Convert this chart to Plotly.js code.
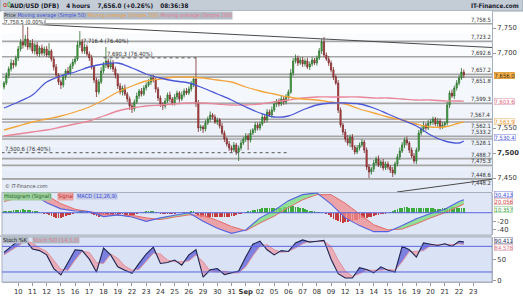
<!DOCTYPE html>
<html><head><meta charset="utf-8">
<script src="https://cdn.plot.ly/plotly-3.0.1.min.js"></script>
<style>html,body{margin:0;padding:0;background:#fff}#c{width:523px;height:296px}</style>
</head><body><div id="c"></div>
<script>
// ---------- DATA ----------
const candlesPerDay = 6;
const dayLabels = ['10','11','12','15','16','17','18','19','22','23','24','25','26','29','30','31','Sep','02','05','06','07','08','09','12','13','14','15','16','19','20','21','22','23'];
const firstOpen = 7632;
const closes = [
7640,7655,7668,7680,7676,7690,
7708,7722,7716,7728,7712,7720,
7704,7716,7698,7710,7700,7708,
7696,7704,7688,7672,7656,7642,
7636,7652,7664,7660,7674,7682,
7688,7716,7722,7704,7712,7698,
7690,7672,7646,7622,7642,7664,
7676,7684,7672,7680,7668,7656,
7634,7622,7630,7618,7608,7594,
7588,7602,7614,7624,7618,7630,
7636,7642,7650,7646,7628,7610,
7598,7594,7604,7616,7608,7600,
7612,7620,7608,7616,7624,7620,
7628,7638,7648,7600,7550,7552,
7548,7560,7568,7576,7572,7562,
7566,7554,7540,7528,7518,7510,
7506,7516,7502,7510,7520,7528,
7534,7526,7540,7546,7556,7550,
7558,7572,7566,7582,7576,7586,
7598,7604,7598,7608,7602,7612,
7622,7660,7684,7690,7680,7686,
7678,7684,7672,7678,7686,7680,
7690,7704,7722,7696,7688,7680,
7666,7652,7640,7586,7556,7542,
7528,7520,7532,7512,7502,7510,
7516,7522,7506,7472,7462,7468,
7480,7488,7476,7482,7470,7478,
7472,7466,7460,7478,7492,7504,
7516,7526,7520,7506,7494,7484,
7506,7540,7548,7556,7550,7560,
7562,7568,7558,7564,7552,7556,
7560,7596,7620,7614,7630,7640,
7650,7662,7656];
const upperWick = [
4,6,5,8,6,5, 6,6,34,8,24,6, 8,5,6,4,7,5, 6,16,4,5,6,4, 5,6,4,8,5,6, 6,8,22,6,7,5,
5,6,4,5,6,8, 6,28,5,7,6,5, 4,6,5,7,4,5, 6,5,7,4,6,5, 5,6,4,6,5,4, 5,4,6,5,7,4,
6,5,4,7,5,6, 5,6,5,44,6,5, 4,6,5,7,4,5, 5,4,6,5,4,6, 5,6,4,5,6,4, 6,5,7,4,6,5,
5,6,4,6,5,7, 6,4,5,7,5,6, 5,8,6,7,5,6, 6,5,7,5,6,4, 5,6,6,10,5,6, 5,6,4,6,5,4,
6,8,5,6,4,6, 5,6,4,5,6,4, 6,5,7,4,6,5, 5,4,6,5,6,7, 6,5,7,4,5,6, 5,6,5,7,4,6,
6,5,4,6,5,7, 4,6,5,7,5,6, 6,8,5];
const lowerWick = [
5,4,6,5,7,4, 6,5,7,4,6,5, 5,7,4,6,5,6, 4,6,5,7,5,6, 8,5,6,4,5,6, 5,4,6,5,6,4,
6,5,6,10,5,4, 5,6,4,5,6,7, 6,5,7,4,6,8, 8,5,4,6,5,4, 5,4,6,5,7,6, 6,8,5,4,6,5,
5,6,7,4,5,4, 4,5,6,8,8,6, 8,5,4,6,5,4, 6,5,4,6,5,6, 5,4,6,18,5,4, 6,20,5,4,6,5,
5,4,6,5,4,6, 4,6,5,4,6,5, 5,4,6,5,6,4, 6,5,4,6,5,4, 5,4,6,5,4,6, 5,6,4,6,5,6,
6,5,8,6,5,4, 5,4,6,6,12,5, 6,5,4,6,5,4, 5,6,8,4,5,6, 4,6,5,6,4,5, 6,4,5,6,5,4,
5,6,4,6,5,4, 4,5,6,4,6,5, 5,4,6];
// moving averages, sampled at each day start and at the last candle
const sma50  = [7590,7602,7616,7642,7654,7662,7672,7678,7680,7670,7658,7650,7644,7640,7630,7618,7606,7592,7580,7572,7574,7586,7596,7600,7600,7598,7590,7578,7566,7554,7536,7524,7520,7524];
const sma100 = [7546,7554,7562,7568,7574,7582,7592,7606,7622,7634,7644,7648,7652,7652,7650,7646,7642,7632,7624,7618,7612,7608,7606,7602,7598,7588,7580,7572,7566,7558,7552,7552,7560,7562];
const sma200 = [7534,7538,7542,7546,7552,7558,7564,7574,7584,7590,7594,7596,7598,7600,7600,7598,7596,7596,7598,7602,7606,7610,7612,7612,7612,7612,7610,7610,7608,7606,7606,7604,7604,7603.6];
// MACD (12,26,9), sampled at each day start and at the last candle
const macdLine   = [31,40,44,23,9,4,3,-9,-5,-10,-20,-12,-6,0,-20,-36,-48,-40,-12,5,28,42,46,20,-12,-30,-44,-44,-30,-14,-2,8,26,30.4];
const signalLine = [26,34,42,40,21,8,2,-3,-6,-6,-12,-16,-10,-5,-6,-18,-32,-42,-24,-8,12,30,42,42,22,-4,-28,-40,-38,-26,-12,0,14,20.1];
const histogram = [
3,4,5,5,6,6, 6,7,8,7,6,6, 5,4,3,2,0,-2, -4,-6,-8,-10,-12,-13, -12,-10,-8,-6,-5,-3, -1,2,4,3,2,1,
-1,-3,-6,-8,-9,-7, -6,-4,-3,-4,-5,-4, -5,-4,-3,-5,-6,-7, -6,-5,-3,-1,1,2, 3,4,5,4,2,-1, -3,-4,-4,-3,-3,-2,
-2,-1,-1,0,1,1, 2,3,4,-2,-6,-9, -11,-12,-12,-11,-10,-10, -9,-9,-10,-10,-10,-9, -8,-7,-6,-4,-2,0, 2,3,5,6,7,8,
9,10,10,11,11,12, 12,11,11,12,13,14, 15,16,16,14,13,12, 10,9,7,5,4,3, 2,1,1,-1,-3,-6, -10,-14,-18,-20,-22,-23,
-22,-21,-20,-19,-18,-16, -14,-12,-12,-12,-11,-10, -8,-6,-5,-4,-3,-2, 0,2,4,6,8,10, 12,13,13,12,11,10, 10,11,12,12,11,10,
10,10,9,9,9,10, 10,11,12,13,13,12, 12,11,10];
// Stochastic (14,3,3), sampled every 3 candles and at the last candle
const stochK = [66,80,93,95,74,70,60,28,13,42,72,70,50,20,76,60,32,24,17,40,62,78,40,42,48,36,60,72,8,25,28,14,18,22,55,85,92,72,60,70,68,88,95,90,92,94,50,16,6,6,30,26,18,32,24,20,80,72,55,88,85,82,86,80,92,90.4];
const stochD = [60,70,82,92,88,76,68,48,26,24,48,68,66,42,40,62,52,34,24,26,44,64,62,48,44,44,46,60,44,22,20,22,18,18,32,58,80,84,72,66,68,76,86,92,91,92,80,48,22,10,16,24,24,24,26,24,44,68,68,70,82,84,84,84,86,84.6];
// horizontal levels and their labels (labelBelow: label drawn under its line)
const levelValues = [7758.5,7723.2,7692.6,7657.2,7651.8,7599.3,7567.4,7562.1,7533.2,7528.1,7488.7,7475.3,7448.6,7448.2];
const labelBelow  = [0,0,0,0,1,0,0,1,0,1,0,0,0,1];
const fibLabels = ['7,758.5 (0.00%)','7,716.4 (76.40%)','7,690.3 (76.40%)','7,500.6 (76.40%)'];
const fibValues = [7758.5,7716.4,7690.3,7500.6];
const fibAt = [0,33,43,0];
const dottedValues = [7690.3,7500.6];
const dottedFrom = [42,-1];
const dottedTo = [81,120];
const trendX = [[7.6,206],[165.8,206]];
const trendY = [[7758.5,7711],[7422,7447.5]];
const headerText = ['AUD/USD (DFB)','4 hours','7,656.0 (+0.26%)','08:36:38'];
const lastPrice = 7656.0, lastSma200 = 7603.6, lastSma100 = 7563.9, lastSma50 = 7530.4;
const macdLast = ['30.413','20.056','10.357'];
const macdLastAt = [43.5,25.9,8.2];
const stochLast = ['90.411','84.576'];
const stochLastAt = [94.8,77.3];

// ---------- BUILD ----------
const n = closes.length;
const idx = closes.map((_, i) => i);
const opens = closes.map((c, i) => i === 0 ? firstOpen : closes[i - 1]);
const highs = closes.map((c, i) => Math.max(opens[i], c) + upperWick[i]);
const lows  = closes.map((c, i) => Math.min(opens[i], c) - lowerWick[i]);
const dayX = []; for (let k = 0; k * candlesPerDay < n; k++) dayX.push(k * candlesPerDay); dayX.push(n - 1);
const stX = []; for (let j = 0; j * 3 < n - 1; j++) stX.push(j * 3); stX.push(n - 1);

const W = 490, H = 282;
const PX = p => (p - 2) / W, PY = p => (H - p) / H;
const FONT = '"DejaVu Sans", sans-serif';
const NARROW = '"DejaVu Sans Condensed","Liberation Sans Narrow","Liberation Sans",sans-serif';

function fillBetween(xs, a, b, upC, dnC, ya) {
  const out = []; let cx = [], ct = [], cb = [], sg = null;
  const flush = () => { if (cx.length > 1) out.push({type:'scatter', mode:'lines', x: cx.concat(cx.slice().reverse()), y: ct.concat(cb.slice().reverse()), fill:'toself', fillcolor: sg > 0 ? upC : dnC, line:{width:0, color:'rgba(0,0,0,0)'}, hoverinfo:'skip', showlegend:false, xaxis:'x', yaxis:ya}); };
  for (let i = 0; i < xs.length; i++) {
    const d = a[i] - b[i], s = d >= 0 ? 1 : -1;
    if (sg === null) sg = s;
    else if (s !== sg) {
      const d0 = a[i-1] - b[i-1], t = d0 / (d0 - d);
      const xc = xs[i-1] + t * (xs[i] - xs[i-1]), yc = a[i-1] + t * (a[i] - a[i-1]);
      cx.push(xc); ct.push(yc); cb.push(yc); flush();
      cx = [xc]; ct = [yc]; cb = [yc]; sg = s;
    }
    cx.push(xs[i]); ct.push(a[i]); cb.push(b[i]);
  }
  flush(); return out;
}

const traces = [];
traces.push({type:'candlestick', x: idx, open: opens, high: highs, low: lows, close: closes,
  increasing:{line:{color:'#2f6f2f', width:0.8}, fillcolor:'#42c042'},
  decreasing:{line:{color:'#7a2b2b', width:0.8}, fillcolor:'#d64848'},
  whiskerwidth:0, hoverinfo:'skip', showlegend:false, xaxis:'x', yaxis:'y'});
[[sma200,'#e9879a'],[sma100,'#f3a53c'],[sma50,'#4b57d6']].forEach(([v,c]) =>
  traces.push({type:'scatter', mode:'lines', x: dayX, y: v, line:{color:c, width:1.3, shape:'spline', smoothing:1}, hoverinfo:'skip', showlegend:false, xaxis:'x', yaxis:'y'}));

fillBetween(dayX, macdLine, signalLine, 'rgba(120,220,120,0.75)', 'rgba(240,140,140,0.75)', 'y2').forEach(t => traces.push(t));
traces.push({type:'bar', x: idx, y: histogram, width:0.75, marker:{color: histogram.map(v => v >= 0 ? '#3daa3d' : '#c43c3c'), line:{width:0}}, hoverinfo:'skip', showlegend:false, xaxis:'x', yaxis:'y2'});
traces.push({type:'scatter', mode:'lines', x: dayX, y: signalLine, line:{color:'#e46a6a', width:1}, hoverinfo:'skip', showlegend:false, xaxis:'x', yaxis:'y2'});
traces.push({type:'scatter', mode:'lines', x: dayX, y: macdLine, line:{color:'#5463e2', width:1.1}, hoverinfo:'skip', showlegend:false, xaxis:'x', yaxis:'y2'});

fillBetween(stX, stochK, stochD, 'rgba(95,95,215,0.75)', 'rgba(235,160,170,0.8)', 'y3').forEach(t => traces.push(t));
traces.push({type:'scatter', mode:'lines', x: stX, y: stochD, line:{color:'#e0909c', width:1}, hoverinfo:'skip', showlegend:false, xaxis:'x', yaxis:'y3'});
traces.push({type:'scatter', mode:'lines', x: stX, y: stochK, line:{color:'#1c2450', width:1.1}, hoverinfo:'skip', showlegend:false, xaxis:'x', yaxis:'y3'});

// ---------- LAYOUT ----------
const mainDom = [PY(192), PY(11)], macdDom = [PY(235), PY(192.5)], stDom = [0, PY(237)];
const shapes = [];
shapes.push({type:'rect', xref:'paper', yref:'paper', x0:PX(0), x1:PX(523), y0:PY(11), y1:1.05, fillcolor:'#c4ccd5', line:{color:'#9aa6b2', width:1}, layer:'below'});
const bands = 8;
for (let b = 0; b < bands; b++) {
  const t = b / (bands - 1);
  const r = Math.round(255 - t * 25), g = Math.round(255 - t * 19), bl = Math.round(255 - t * 7);
  shapes.push({type:'rect', xref:'paper', yref:'paper', x0:0, x1:1, y0:PY(11 + (b + 1) * 181 / bands), y1:PY(11 + b * 181 / bands), fillcolor:`rgb(${r},${g},${bl})`, line:{width:0}, layer:'below'});
}
shapes.push({type:'rect', xref:'paper', yref:'paper', x0:0, x1:1, y0:macdDom[0], y1:macdDom[1], fillcolor:'#dfe6f6', line:{color:'#a8b0c0', width:1}, layer:'below'});
shapes.push({type:'rect', xref:'paper', yref:'paper', x0:0, x1:1, y0:stDom[0], y1:stDom[1], fillcolor:'#dae2f6', line:{color:'#a8b0c0', width:1}, layer:'below'});
shapes.push({type:'rect', xref:'paper', yref:'paper', x0:PX(0), x1:1, y0:PY(237), y1:PY(235), fillcolor:'#b9c1cb', line:{width:0}, layer:'below'});
levelValues.forEach(v => shapes.push({type:'line', xref:'paper', yref:'y', x0:0, x1:1, y0:v, y1:v, line:{color:'#a6a6a6', width:1.6}, layer:'below'}));
dottedValues.forEach((v, i) => shapes.push({type:'line', xref:'x', yref:'y', x0:dottedFrom[i], x1:dottedTo[i], y0:v, y1:v, line:{color:'#555', width:1, dash:'dot'}}));
trendX.forEach((xs, i) => shapes.push({type:'line', xref:'x', yref:'y', x0:xs[0], x1:xs[1], y0:trendY[i][0], y1:trendY[i][1], line:{color:'#4a4a4a', width:1}}));
shapes.push({type:'line', xref:'paper', yref:'y2', x0:0, x1:1, y0:0, y1:0, line:{color:'#5a66e0', width:1}});
[80, 20].forEach(v => shapes.push({type:'line', xref:'paper', yref:'y3', x0:0, x1:1, y0:v, y1:v, line:{color:'#5a66e0', width:1}}));

const ann = [];
const A = (o) => ann.push(Object.assign({showarrow:false, font:{family:NARROW, size:6, color:'#333'}}, o));
const HF = {family:NARROW, size:6.3, color:'#18202c'};
A({xref:'paper', yref:'paper', x:PX(1), y:PY(5.5), xanchor:'left', yanchor:'middle', text:'<span style="color:#c02020">ɑ</span><span style="color:#20a020">0</span>', font:{family:NARROW, size:7, color:'#333'}});
A({xref:'paper', yref:'paper', x:PX(8), y:PY(5.5), xanchor:'left', yanchor:'middle', font:HF,
  text: headerText.map(t => '<b>' + t + '</b>').join('&nbsp;&nbsp;&nbsp;&nbsp;')});
A({xref:'paper', yref:'paper', x:PX(521), y:PY(5.5), xanchor:'right', yanchor:'middle', text:'<b>IT-Finance.com</b>', font:HF});
A({xref:'paper', yref:'paper', x:PX(3), y:PY(15.3), xanchor:'left', yanchor:'middle', borderpad:0, bgcolor:'#b2bcc7',
  text:'Price <span style="color:#3d4ed6">Moving average (Simple 50)</span> <span style="color:#f0a040">Moving average (Simple 100)</span> <span style="color:#e8778c">Moving average (Simple 200)</span>',
  font:{family:NARROW, size:5.4, color:'#333'}});
A({xref:'paper', yref:'paper', x:PX(4), y:PY(21.8), xanchor:'left', yanchor:'middle', text:fibLabels[0], bgcolor:'rgba(255,255,255,0.92)', bordercolor:'#999', borderwidth:0.6, borderpad:0, font:{family:NARROW, size:5.6, color:'#333'}});
[1,2].forEach(i => A({xref:'x', yref:'y', x:fibAt[i], y:fibValues[i], xanchor:'left', yanchor:'bottom', borderpad:0, text:fibLabels[i], font:{family:NARROW, size:5.8, color:'#333'}}));
A({xref:'paper', yref:'y', x:PX(4), y:fibValues[3], xanchor:'left', yanchor:'bottom', borderpad:0, text:fibLabels[3], font:{family:NARROW, size:5.8, color:'#333'}});
levelValues.forEach((v, i) => A({xref:'paper', yref:'y', x:1, y:v, xanchor:'right', yanchor: labelBelow[i] ? 'top' : 'bottom', borderpad:0,
  text: v.toLocaleString('en-US', {minimumFractionDigits:1}), font:{family:NARROW, size:5.8, color:'#333'}}));
const box = (y, text, yref, color, bg, border) => A({xref:'paper', yref, x:1.004, y, xanchor:'left', yanchor:'middle', text, bgcolor:bg, bordercolor:border, borderwidth:0.6, borderpad:0, font:{family:NARROW, size:5.8, color}});
box(lastPrice, '7,656.0', 'y', '#3a2a10', '#f6b24c', '#d08a20');
box(lastSma200, '7,603.6', 'y', '#e0607a', '#ffffff', '#e0a0b0');
box(lastSma100, '7,563.9', 'y', '#e89020', '#ffffff', '#f0c080');
box(lastSma50, '7,530.4', 'y', '#3d4ed6', '#ffffff', '#8890e0');
box(macdLastAt[0], macdLast[0], 'y2', '#3d4ed6', '#ffffff', '#8890e0');
box(macdLastAt[1], macdLast[1], 'y2', '#d04040', '#ffffff', '#e0a0a0');
box(macdLastAt[2], macdLast[2], 'y2', '#2e9a2e', '#ffffff', '#90d090');
box(stochLastAt[0], stochLast[0], 'y3', '#1c2450', '#ffffff', '#8088a8');
box(stochLastAt[1], stochLast[1], 'y3', '#e07080', '#ffffff', '#e0a0b0');
A({xref:'paper', yref:'paper', x:PX(3), y:PY(186.5), xanchor:'left', yanchor:'middle', text:'© IT-Finance.com', font:{family:NARROW, size:5.4, color:'#555'}});
A({xref:'paper', yref:'paper', x:PX(3), y:PY(196), xanchor:'left', yanchor:'middle', borderpad:0, bgcolor:'#9fd09f', text:'Histogram (Signal)', font:{family:NARROW, size:5.6, color:'#2a6a2a'}});
A({xref:'paper', yref:'paper', x:PX(56.5), y:PY(196), xanchor:'left', yanchor:'middle', borderpad:0, bgcolor:'#eaa4a4', text:'Signal', font:{family:NARROW, size:5.6, color:'#c03030'}});
A({xref:'paper', yref:'paper', x:PX(76), y:PY(196), xanchor:'left', yanchor:'middle', borderpad:0, bgcolor:'#c4cbe8', text:'MACD (12,26,9)', font:{family:NARROW, size:5.6, color:'#3d4ed6'}});
A({xref:'paper', yref:'paper', x:PX(2), y:PY(239.5), xanchor:'left', yanchor:'middle', borderpad:0, bgcolor:'#b2bcc7', text:'Stoch %K', font:{family:NARROW, size:5.6, color:'#222'}});
A({xref:'paper', yref:'paper', x:PX(32), y:PY(239.5), xanchor:'left', yanchor:'middle', borderpad:0, bgcolor:'#b2bcc7', text:'Stoch %D (14,3,3)', font:{family:NARROW, size:5.6, color:'#e07888'}});

const tickFont = {family:FONT, size:6.8, color:'#333'};
const axisBase = {ticks:'outside', ticklen:3, tickcolor:'#999', tickfont:tickFont, showgrid:false, zeroline:false, showline:true, linecolor:'#a8b0c0', fixedrange:true};
const layout = {
  width:523, height:296, margin:{l:2, r:31, t:0, b:14}, paper_bgcolor:'#ffffff', plot_bgcolor:'rgba(0,0,0,0)',
  showlegend:false, bargap:0, dragmode:false,
  xaxis:Object.assign({}, axisBase, {domain:[0,1], anchor:'y3', range:[-0.84, 205.9], tickvals: dayLabels.map((_, k) => (k + 1) * candlesPerDay),
    ticktext: dayLabels.map(d => d === 'Sep' ? '<b>Sep</b>' : d), rangeslider:{visible:false}}),
  yaxis:Object.assign({}, axisBase, {domain:mainDom, anchor:'x', side:'right', range:[7422, 7784], tickvals:[7450,7500,7550,7700,7750],
    ticktext:['7,450','<b>7,500</b>','7,550','7,700','7,750']}),
  yaxis2:Object.assign({}, axisBase, {domain:macdDom, anchor:'x', side:'right', range:[-51.8, 47], tickvals:[-40,-20], ticktext:['-40','-20']}),
  yaxis3:Object.assign({}, axisBase, {domain:stDom, anchor:'x', side:'right', range:[-3.5, 101.9], tickvals:[0,50], ticktext:['0','50']}),
  shapes, annotations: ann
};
Plotly.newPlot('c', traces, layout, {displayModeBar:false, staticPlot:true});
</script></body></html>
